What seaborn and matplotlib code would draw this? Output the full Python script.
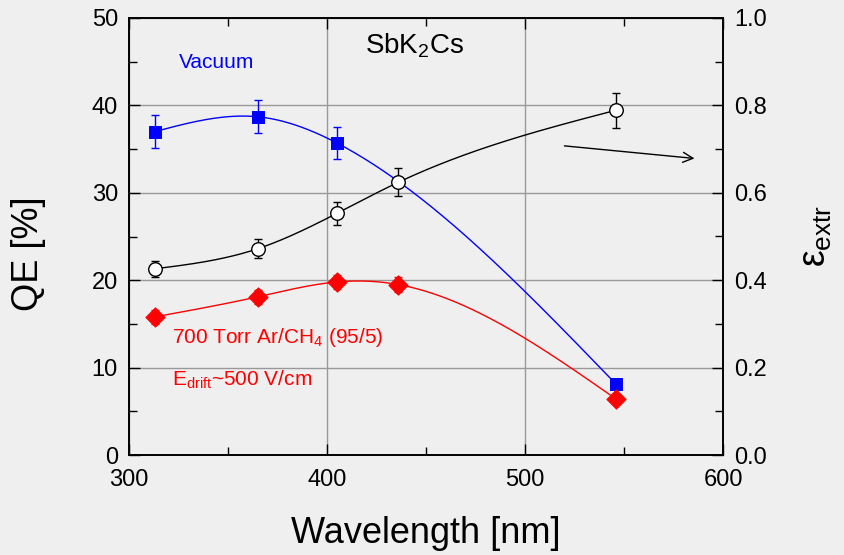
import numpy as np
import pandas as pd
import matplotlib
matplotlib.use("Agg")
import matplotlib.pyplot as plt
import seaborn as sns

# ---- data ----
wl_vac = [313, 365, 405, 546]
qe_vac = [37.0, 38.7, 35.7, 8.1]
err_vac = [1.9, 1.9, 1.8, 0.0]

wl_gas = [313, 365, 405, 436, 546]
qe_gas = [15.8, 18.1, 19.8, 19.5, 6.4]
err_gas = [0.8, 0.8, 0.8, 0.9, 0.0]

wl_ext = [313, 365, 405, 436, 546]
eps_ext = [0.426, 0.472, 0.553, 0.624, 0.789]
err_ext = [0.018, 0.022, 0.027, 0.032, 0.04]

x_ticks = [300, 400, 500, 600]
y_left_ticks = [0, 10, 20, 30, 40, 50]
y_right_ticks = [0.0, 0.2, 0.4, 0.6, 0.8, 1.0]


def natural_spline(x, y, n=300):
    x = np.asarray(x, float); y = np.asarray(y, float)
    k = len(x); h = np.diff(x)
    A = np.zeros((k, k)); b = np.zeros(k)
    A[0, 0] = A[-1, -1] = 1
    for i in range(1, k - 1):
        A[i, i - 1] = h[i - 1]
        A[i, i] = 2 * (h[i - 1] + h[i])
        A[i, i + 1] = h[i]
        b[i] = 3 * ((y[i + 1] - y[i]) / h[i] - (y[i] - y[i - 1]) / h[i - 1])
    c = np.linalg.solve(A, b)
    xs = np.linspace(x[0], x[-1], n)
    idx = np.clip(np.searchsorted(x, xs) - 1, 0, k - 2)
    dx = xs - x[idx]
    hi = h[idx]
    bi = (y[idx + 1] - y[idx]) / hi - hi * (2 * c[idx] + c[idx + 1]) / 3
    di = (c[idx + 1] - c[idx]) / (3 * hi)
    ys = y[idx] + bi * dx + c[idx] * dx ** 2 + di * dx ** 3
    return xs, ys


sns.set_theme(style="ticks")
plt.rcParams["font.family"] = ["Liberation Sans", "DejaVu Sans"]
plt.rcParams["mathtext.fontset"] = "custom"
plt.rcParams["mathtext.rm"] = "Liberation Sans"
plt.rcParams["mathtext.it"] = "Liberation Sans"
plt.rcParams["text.color"] = "black"
plt.rcParams["axes.labelcolor"] = "black"

bg = "#efefef"
fig = plt.figure(figsize=(8.44, 5.55), dpi=100, facecolor=bg)
ax = fig.add_axes([129 / 844, 1 - 455 / 555, (723 - 129) / 844, (455 - 18) / 555])
ax.set_facecolor(bg)
ax2 = ax.twinx()

# curves
xs, ys = natural_spline(wl_vac, qe_vac)
sns.lineplot(x=xs, y=ys, ax=ax, color="blue", lw=1.0, zorder=3)
xs, ys = natural_spline(wl_gas, qe_gas)
sns.lineplot(x=xs, y=ys, ax=ax, color="red", lw=1.0, zorder=3)
xs, ys = natural_spline(wl_ext, eps_ext)
sns.lineplot(x=xs, y=ys, ax=ax2, color="black", lw=1.0, zorder=3)

# error bars
ax.errorbar(wl_vac, qe_vac, yerr=err_vac, fmt="none", ecolor="blue", elinewidth=1.0, capsize=3, zorder=4)
ax.errorbar(wl_gas, qe_gas, yerr=err_gas, fmt="none", ecolor="red", elinewidth=1.0, capsize=3, zorder=4)
ax2.errorbar(wl_ext, eps_ext, yerr=err_ext, fmt="none", ecolor="black", elinewidth=1.0, capsize=3, zorder=4)

# markers
sns.scatterplot(x=wl_vac, y=qe_vac, ax=ax, marker="s", s=80, color="blue", edgecolor="blue", zorder=5)
sns.scatterplot(x=wl_gas, y=qe_gas, ax=ax, marker="D", s=95, color="red", edgecolor="red", zorder=5)
sns.scatterplot(x=wl_ext, y=eps_ext, ax=ax2, marker="o", s=95, color="white", edgecolor="black", linewidth=1.0, zorder=5)

# axes setup
ax.set_xlim(300, 600)
ax.set_ylim(0, 50)
ax2.set_ylim(0, 1.0)
ax.set_xticks(x_ticks)
ax.set_xticks([350, 450, 550], minor=True)
ax.set_yticks(y_left_ticks)
ax.set_yticks([5, 15, 25, 35, 45], minor=True)
ax2.set_yticks(y_right_ticks)
ax2.set_yticks([0.1, 0.3, 0.5, 0.7, 0.9], minor=True)
ax.set_xticklabels([str(v) for v in x_ticks])
ax.set_yticklabels([str(v) for v in y_left_ticks])
ax2.set_yticklabels([f"{v:.1f}" for v in y_right_ticks])

for a in (ax, ax2):
    for s in a.spines.values():
        s.set_visible(True)
        s.set_color("black")
        s.set_linewidth(1.2)
ax.tick_params(axis="both", which="both", direction="in", top=True, right=False,
               colors="black", labelsize=17, width=1.0)
ax.tick_params(which="major", length=8)
ax.tick_params(which="minor", length=6)
ax.tick_params(axis="x", pad=10)
ax.tick_params(axis="y", pad=8)
ax2.tick_params(axis="y", which="both", direction="in", labelsize=17, width=1.0, pad=8, colors="black")
ax2.tick_params(which="major", length=8)
ax2.tick_params(which="minor", length=6)

ax.grid(True, which="major", color="#999999", lw=1.0)
ax.set_axisbelow(True)
ax2.grid(False)

ax.set_xlabel("Wavelength [nm]", fontsize=26, labelpad=18, color="black")
ax.set_ylabel("QE [%]", fontsize=26, color="black")
ax.yaxis.set_label_coords(-0.14, 0.46)
ax2.set_ylabel(r"$\varepsilon_{\mathrm{extr}}$", fontsize=27, labelpad=22, color="black")

# annotations
ax.text(325, 44.9, "Vacuum", color="blue", fontsize=15, va="center", ha="left")
ax.text(419, 46.8, r"SbK$_2$Cs", color="black", fontsize=20, va="center", ha="left")
ax.text(321.5, 13.5, r"700 Torr Ar/CH$_4$ (95/5)", color="red", fontsize=15, va="center", ha="left")
ax.text(321.5, 8.6, r"E$_{\mathrm{drift}}$~500 V/cm", color="red", fontsize=15, va="center", ha="left")
ax.annotate("", xy=(587, 33.9), xytext=(518.5, 35.4),
            arrowprops=dict(arrowstyle="->", color="black", lw=1.0, mutation_scale=18))

fig.savefig("out.png", dpi=100, facecolor=bg)
